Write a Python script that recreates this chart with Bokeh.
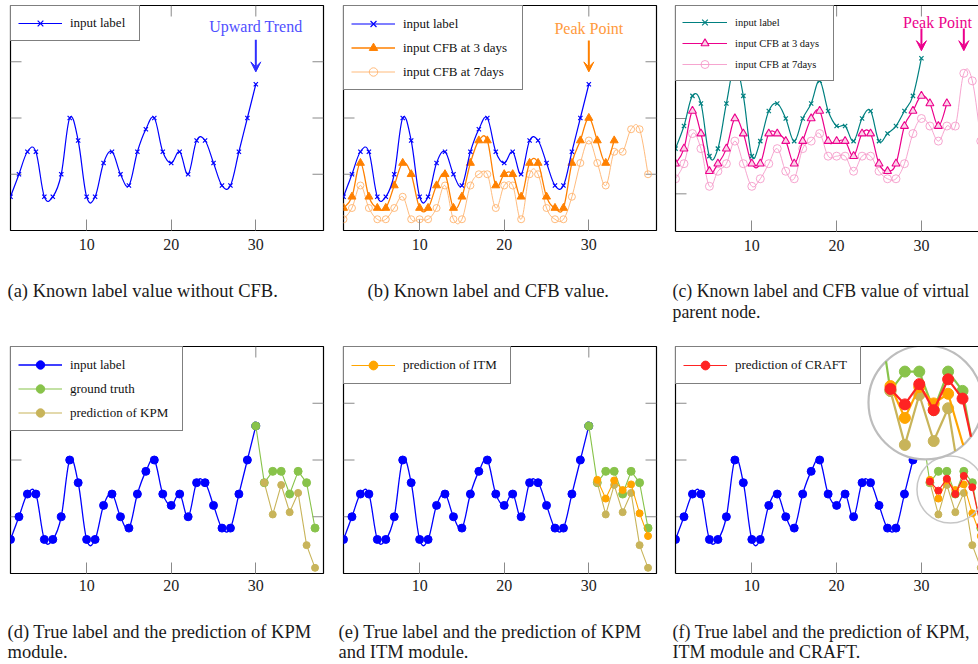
import numpy as np
from bokeh.plotting import figure
from bokeh.models import (Label, Arrow, VeeHead, Legend, LegendItem, LinearAxis,
                          FixedTicker, Range1d)
from bokeh.layouts import column, row
from bokeh.embed import file_html
from bokeh.resources import INLINE

# ---------------- data ----------------
days = list(range(1, 31))
input_label = [3, 5, 7, 7, 3, 3, 5, 10, 8, 3, 3, 6, 7, 5, 4, 7, 9, 10, 7, 6,
               7, 5, 8, 8, 6, 4, 4, 7, 10, 13]
days_cfb3 = list(range(1, 34))
cfb_3days = [2, 3, 6, 3, 2, 2, 4, 6, 5, 2, 2, 4, 5, 2, 3, 6, 8, 8, 4, 5,
             5, 3, 6, 6, 3, 2, 2, 6, 8, 10, 8, 6, 8]
days_cfb7 = list(range(1, 38))
cfb_7days = [1, 2, 4, 2, 1, 1, 2, 3, 1, 1, 1, 2, 4, 1, 1, 4, 5, 5, 2, 4,
             4, 1, 5, 5, 2, 1, 1, 3, 6, 8, 6, 4, 7, 7, 9, 9, 5]
parent_label = [11, 14, 18, 17, 10, 11, 17, 22, 18, 10, 12, 16, 17, 15, 12, 15, 17, 20, 16, 14,
                14, 12, 15, 16, 12, 13, 14, 16, 18, 23]
parent_cfb_3days = [9, 11, 16, 13, 8, 9, 11, 15, 13, 9, 9, 13, 13, 12, 9, 12, 15, 16, 12, 12,
                    12, 10, 13, 13, 9, 8, 9, 14, 16, 18, 17, 14, 17]
parent_cfb_7days = [7, 9, 13, 11, 6, 8, 9, 12, 9, 6, 7, 9, 11, 8, 7, 11, 12, 13, 10, 10,
                    10, 8, 10, 10, 8, 7, 7, 9, 13, 15, 14, 12, 14, 14, 21, 20, 12]
days_truth = list(range(30, 38))
ground_truth = [13, 8, 9, 9, 7, 9, 8, 4]
days_pred = list(range(31, 38))
pred_kpm = [8, 5.2, 7.8, 5.4, 7.1, 2.5, 0.5]
pred_itm = [8.25, 6.6, 8.2, 7.35, 7.85, 5.3, 3.3]
pred_craft = [8.1, 7.3, 8.35, 7.0, 8.6, 7.6, 4.2]

x_ticks = [10, 20, 30]
y_ticks_main = [5, 10, 15]
y_ticks_parent = [5, 15, 25]

cap_a = ["(a) Known label value without CFB."]
cap_b = ["(b) Known label and CFB value."]
cap_c = ["(c) Known label and CFB value of virtual", "parent node."]
cap_d = ["(d) True label and the prediction of KPM", "module."]
cap_e = ["(e) True label and the prediction of KPM", "and ITM module."]
cap_f = ["(f) True label and the prediction of KPM,", "ITM module and CRAFT."]

# ---------------- styles ----------------
SERIF = "Liberation Serif"
TICK_C = "#8a8a8a"
BLUE = "#0000ff"
ORANGE = "#ff8000"
LORANGE = "#ffb36e"
TEAL = "#008080"
MAGENTA = "#ec008c"
PINK = "#f59bc9"
GREEN = "#88c34a"
OLIVE = "#c8b45a"
ITM = "#ffa500"
RED = "#ff2323"
TICK_LEN = 11

XR_FULL = (1, 38)
XR_CUT = (1, 1 + 303 / 8.48)


def make_fig(frame_w, frame_h, xr, yr, yt, bl, br, bt, bb, standoff, open_right=False):
    p = figure(frame_width=frame_w, frame_height=frame_h,
               x_range=Range1d(*xr), y_range=Range1d(*yr),
               min_border_left=bl, min_border_right=br,
               min_border_top=bt, min_border_bottom=bb,
               x_axis_location=None, y_axis_location=None,
               toolbar_location=None, output_backend="svg", title=None)
    p.grid.visible = False
    bottom = LinearAxis(ticker=FixedTicker(ticks=x_ticks), major_tick_in=TICK_LEN,
                        major_tick_out=0, minor_tick_in=0, minor_tick_out=0,
                        major_tick_line_color=TICK_C, major_tick_line_width=1,
                        axis_line_color="black" if open_right else None, axis_line_width=1.2,
                        major_label_text_font=SERIF, major_label_text_font_size="16px",
                        major_label_text_color="#222222", major_label_standoff=standoff)
    p.add_layout(bottom, "below")
    px_x = frame_w / (xr[1] - xr[0])
    px_y = frame_h / (yr[1] - yr[0])
    # inward tick marks on the top, left and right sides
    tick_kw = dict(line_color=TICK_C, line_width=1)
    p.segment(x0=x_ticks, y0=[yr[1]] * len(x_ticks), x1=x_ticks,
              y1=[yr[1] - TICK_LEN / px_y] * len(x_ticks), **tick_kw)
    p.segment(x0=[xr[0]] * len(yt), y0=yt, x1=[xr[0] + TICK_LEN / px_x] * len(yt), y1=yt,
              **tick_kw)
    if open_right:
        p.outline_line_color = None
        for side in ("left", "above"):
            ax = LinearAxis(ticker=FixedTicker(ticks=[]), major_tick_in=0, major_tick_out=0,
                            minor_tick_in=0, minor_tick_out=0, major_label_standoff=0,
                            axis_line_color="black", axis_line_width=1.2)
            p.add_layout(ax, side)
    else:
        p.segment(x0=[xr[1] - TICK_LEN / px_x] * len(yt), y0=yt, x1=[xr[1]] * len(yt), y1=yt,
                  **tick_kw)
        p.outline_line_color = "black"
        p.outline_line_width = 1.2
    return p


def caption_fig(width, height, lines, x, baselines, size="18.5px"):
    p = figure(width=width, height=height, x_range=Range1d(0, width),
               y_range=Range1d(0, height), min_border=0,
               x_axis_location=None, y_axis_location=None,
               toolbar_location=None, output_backend="svg", title=None)
    p.grid.visible = False
    p.outline_line_color = None
    for t, yb in zip(lines, baselines):
        p.add_layout(Label(x=x, y=height - yb, text=t, text_font=SERIF, text_font_size=size,
                           text_baseline="alphabetic", text_color="#1a1a1a"))
    return p


def smooth_line(p, xs, ys, color, width, t=0.183):
    x = np.asarray(xs, float)
    y = np.asarray(ys, float)
    xp = np.concatenate([[x[0]], x, [x[-1]]])
    yp = np.concatenate([[y[0]], y, [y[-1]]])
    tx = xp[2:] - xp[:-2]
    ty = yp[2:] - yp[:-2]
    return p.bezier(x0=x[:-1], y0=y[:-1], x1=x[1:], y1=y[1:],
                    cx0=x[:-1] + t * tx[:-1], cy0=y[:-1] + t * ty[:-1],
                    cx1=x[1:] - t * tx[1:], cy1=y[1:] - t * ty[1:],
                    line_color=color, line_width=width)


def add_legend(p, items, label_width, font_size="13px", padding=7, spacing=3, h=20, glyph_w=44):
    lg = Legend(items=[LegendItem(label=l, renderers=r) for l, r in items],
                location="top_left", margin=0, padding=padding, spacing=spacing,
                label_height=h, glyph_height=h, glyph_width=glyph_w, label_standoff=8,
                label_width=label_width, label_text_font=SERIF,
                label_text_font_size=font_size, label_text_color="#111111",
                border_line_color="black", border_line_width=1.2,
                background_fill_color="white", background_fill_alpha=1.0)
    p.add_layout(lg)


def annotate(p, text, tx, ty, arrows, tcolor, acolor):
    p.add_layout(Label(x=tx, y=ty, text=text, text_font=SERIF, text_font_size="16px",
                       text_align="center", text_baseline="middle", text_color=tcolor))
    for (ax, y0, y1) in arrows:
        p.add_layout(Arrow(x_start=ax, y_start=y0, x_end=ax, y_end=y1, line_color=acolor,
                           line_width=2,
                           end=VeeHead(size=10, line_color=acolor, fill_color=acolor)))


YR_TOP = (0, 20)
YR_PAR = (0, 30)
YR_BOT = (0, 20)

# ---------------- (a) ----------------
pa = make_fig(313, 225, XR_FULL, YR_TOP, y_ticks_main, 10, 10, 5, 30, 8)
la = smooth_line(pa, days, input_label, BLUE, 1.2)
ma = pa.scatter(days, input_label, marker="x", size=6, line_color=BLUE, line_width=1.2)
add_legend(pa, [("input label", [la, ma])], 62)
annotate(pa, "Upward Trend", 30, 18.1, [(30, 16.95, 14.1)], "#4f4fff", "#2f2fff")

# ---------------- (b) ----------------
pb = make_fig(313, 225, XR_FULL, YR_TOP, y_ticks_main, 10, 9, 5, 30, 8)
l7 = smooth_line(pb, days_cfb7, cfb_7days, LORANGE, 0.9)
m7 = pb.scatter(days_cfb7, cfb_7days, marker="circle", size=7, fill_color=None,
                line_color=LORANGE, line_width=0.9)
l3 = smooth_line(pb, days_cfb3, cfb_3days, ORANGE, 1.3)
m3 = pb.scatter(days_cfb3, cfb_3days, marker="triangle", size=8, fill_color=ORANGE,
                line_color=ORANGE)
lb = smooth_line(pb, days, input_label, BLUE, 1.2)
mb = pb.scatter(days, input_label, marker="x", size=6, line_color=BLUE, line_width=1.2)
add_legend(pb, [("input label", [lb, mb]), ("input CFB at 3 days", [l3, m3]),
                ("input CFB at 7days", [l7, m7])], 112, spacing=3, h=21)
annotate(pb, "Peak Point", 30, 17.95, [(30, 16.9, 14.1)], "#ff9a3c", ORANGE)

# ---------------- (c) ----------------
pc = make_fig(303, 226, XR_CUT, YR_PAR, y_ticks_parent, 10, 0, 5, 29, 8, open_right=True)
lp7 = smooth_line(pc, days_cfb7, parent_cfb_7days, PINK, 0.9)
mp7 = pc.scatter(days_cfb7, parent_cfb_7days, marker="circle", size=8, fill_color=None,
                 line_color=PINK, line_width=0.9)
lp3 = smooth_line(pc, days_cfb3, parent_cfb_3days, MAGENTA, 1.2)
mp3 = pc.scatter(days_cfb3, parent_cfb_3days, marker="triangle", size=8, fill_color="#fbd3e8",
                 line_color=MAGENTA, line_width=1.1)
lpl = smooth_line(pc, days, parent_label, TEAL, 1.2)
mpl = pc.scatter(days, parent_label, marker="x", size=6, line_color=TEAL, line_width=1.2)
add_legend(pc, [("input label", [lpl, mpl]), ("input CFB at 3 days", [lp3, mp3]),
                ("input CFB at 7days", [lp7, mp7])], 92, font_size="10.5px",
           padding=6, spacing=1, h=20, glyph_w=45)
annotate(pc, "Peak Point", 31.9, 27.75, [(30, 26.95, 24.0), (35, 26.95, 24.0)], MAGENTA, MAGENTA)


# ---------------- bottom row ----------------
def prediction_panel(frame_w, xr, bl, br, open_right, show_itm, show_craft):
    p = make_fig(frame_w, 227, xr, YR_BOT, y_ticks_main, bl, br, 10, 30, 6, open_right=open_right)
    lbl = smooth_line(p, days, input_label, BLUE, 1.3)
    mbl = p.scatter(days, input_label, marker="circle", size=8, fill_color=BLUE, line_color=BLUE)
    lkp = p.line(days_pred, pred_kpm, line_color=OLIVE, line_width=1.1)
    lgt = p.line(days_truth, ground_truth, line_color=GREEN, line_width=1.1)
    mgt = p.scatter(days_truth, ground_truth, marker="circle", size=8, fill_color=GREEN,
                    line_color=GREEN)
    mkp = p.scatter(days_pred, pred_kpm, marker="circle", size=7, fill_color=OLIVE,
                    line_color=OLIVE)
    out = {"blue": [lbl, mbl], "gt": [lgt, mgt], "kpm": [lkp, mkp]}
    if show_itm:
        lit = p.line(days_pred, pred_itm, line_color=ITM, line_width=1.1)
        mit = p.scatter(days_pred, pred_itm, marker="circle", size=7, fill_color=ITM,
                        line_color=ITM)
        out["itm"] = [lit, mit]
    if show_craft:
        lcr = p.line(days_pred, pred_craft, line_color=RED, line_width=1.2)
        mcr = p.scatter(days_pred, pred_craft, marker="circle", size=7, fill_color=RED,
                        line_color=RED)
        out["craft"] = [lcr, mcr]
    return p, out


pd_, rd = prediction_panel(313, XR_FULL, 10, 10, False, False, False)
add_legend(pd_, [("input label", rd["blue"]), ("ground truth", rd["gt"]),
                 ("prediction of KPM", rd["kpm"])], 105, spacing=3, h=21)

pe, re_ = prediction_panel(313, XR_FULL, 10, 9, False, True, False)
add_legend(pe, [("prediction of ITM", re_["itm"])], 100, h=22)

pf, rf = prediction_panel(303, XR_CUT, 10, 0, True, True, True)
add_legend(pf, [("prediction of CRAFT", rf["craft"])], 118, h=22)

# ---- magnifying "spy" circles on (f) ----
PX_X = 303 / (XR_CUT[1] - XR_CUT[0])
PX_Y = 227 / (YR_BOT[1] - YR_BOT[0])
SPY_SMALL = (33.43, 7.4)
SPY_BIG = (30.48, 15.07)
SPY_ZOOM = 1.7
SPY_R = 57

pf.scatter([SPY_SMALL[0]], [SPY_SMALL[1]], marker="circle", size=2 * SPY_R / SPY_ZOOM,
           fill_color=None, line_color="#c6c6c6", line_width=1.5)
pf.scatter([SPY_BIG[0]], [SPY_BIG[1]], marker="circle", size=2 * SPY_R,
           fill_color="white", line_color="#bdbdbd", line_width=2.2)


def spy_series(p, xs, ys, color):
    x = np.asarray(xs, float)
    y = np.asarray(ys, float)
    X = SPY_BIG[0] + SPY_ZOOM * (x - SPY_SMALL[0])
    Y = SPY_BIG[1] + SPY_ZOOM * (y - SPY_SMALL[1])
    U = (X - SPY_BIG[0]) * PX_X / SPY_R
    V = (Y - SPY_BIG[1]) * PX_Y / SPY_R
    x0s, y0s, x1s, y1s = [], [], [], []
    for i in range(len(X) - 1):
        du, dv = U[i + 1] - U[i], V[i + 1] - V[i]
        a = du * du + dv * dv
        b = 2 * (U[i] * du + V[i] * dv)
        c = U[i] ** 2 + V[i] ** 2 - 1
        disc = b * b - 4 * a * c
        if a == 0 or disc <= 0:
            continue
        s = np.sqrt(disc)
        t0 = max(0.0, (-b - s) / (2 * a))
        t1 = min(1.0, (-b + s) / (2 * a))
        if t1 <= t0:
            continue
        dx, dy = X[i + 1] - X[i], Y[i + 1] - Y[i]
        x0s.append(X[i] + t0 * dx)
        y0s.append(Y[i] + t0 * dy)
        x1s.append(X[i] + t1 * dx)
        y1s.append(Y[i] + t1 * dy)
    p.segment(x0=x0s, y0=y0s, x1=x1s, y1=y1s, line_color=color, line_width=2.2)
    inside = (U ** 2 + V ** 2) <= (1 - 5.0 / SPY_R) ** 2
    p.scatter(X[inside], Y[inside], marker="circle", size=11, fill_color=color, line_color=color)


spy_series(pf, days_truth, ground_truth, GREEN)
spy_series(pf, days_pred, pred_kpm, OLIVE)
spy_series(pf, days_pred, pred_itm, ITM)
spy_series(pf, days_pred, pred_craft, RED)

# ---------------- captions ----------------
ca = caption_fig(333, 76, cap_a, 7, [30])
cb = caption_fig(332, 76, cap_b, 34, [30])
cc = caption_fig(313, 76, cap_c, 7, [30, 51], size="17.8px")
cd = caption_fig(333, 61, cap_d, 7, [28, 48.5])
ce = caption_fig(332, 61, cap_e, 5, [28, 48.5])
cf = caption_fig(313, 61, cap_f, 7, [28, 48.5], size="18px")

layout = column(row(pa, pb, pc), row(ca, cb, cc), row(pd_, pe, pf), row(cd, ce, cf))
open("out.html", "w").write(file_html(layout, INLINE))
